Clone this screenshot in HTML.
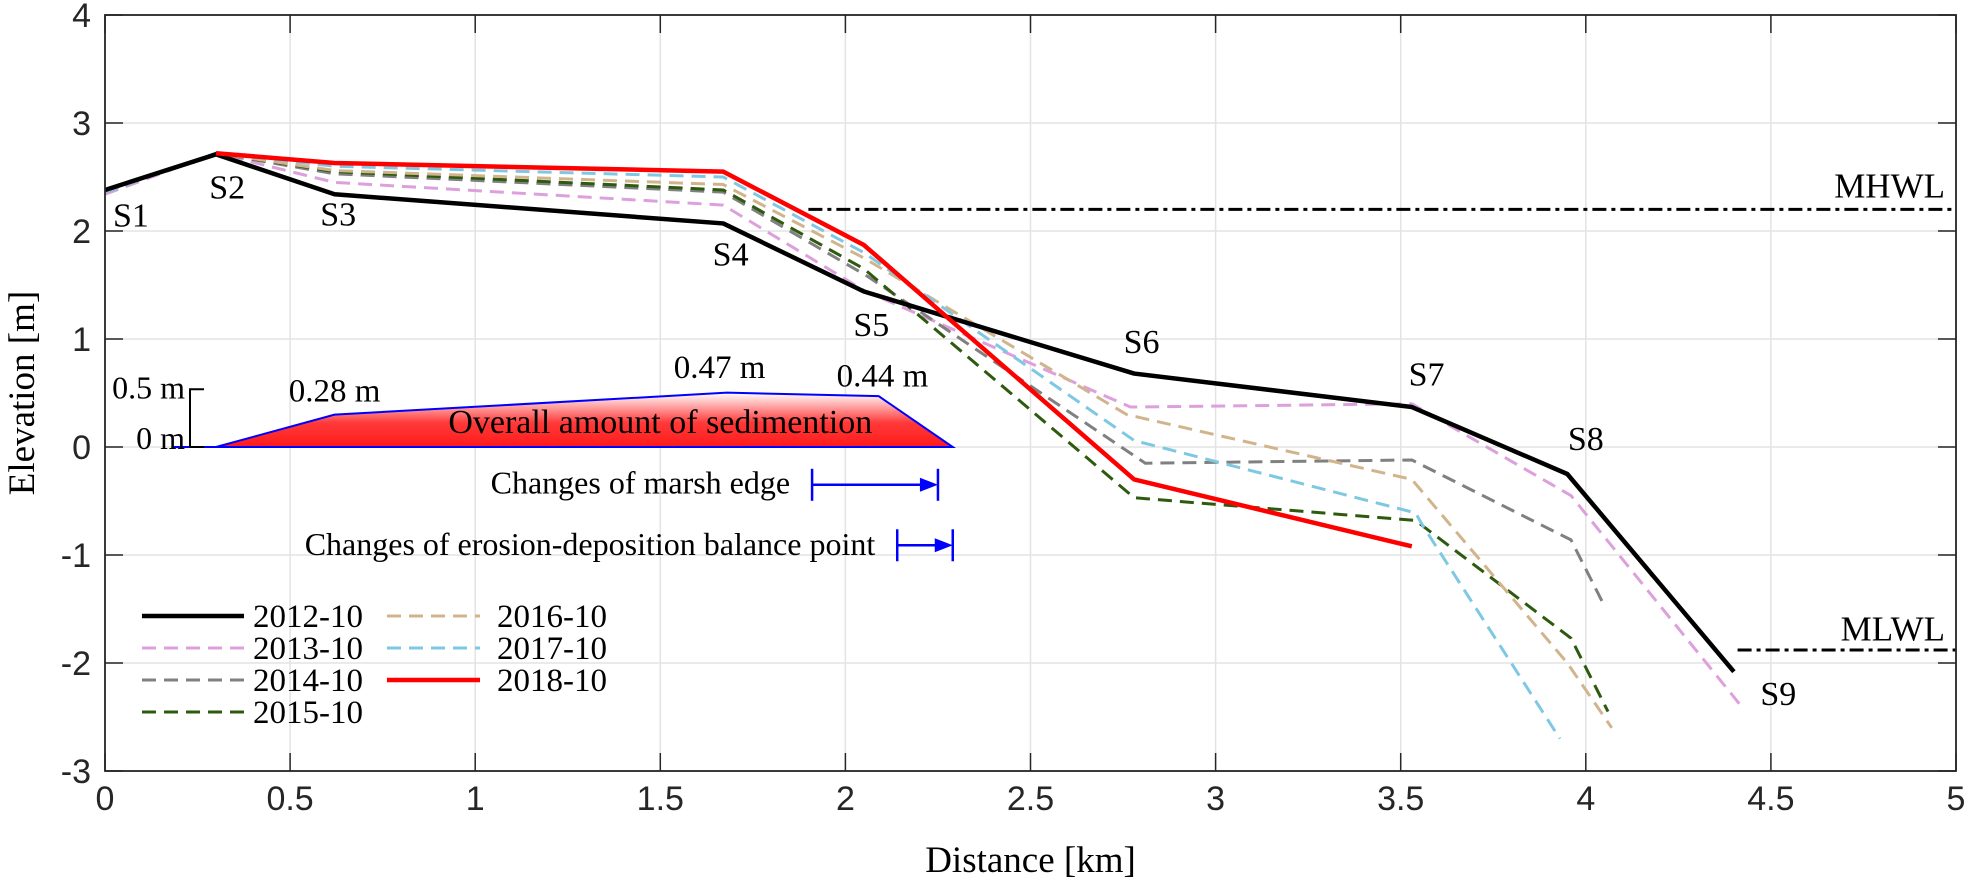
<!DOCTYPE html>
<html><head><meta charset="utf-8"><style>
html,body{margin:0;padding:0;background:#fff}
svg{display:block}
.tk{font-family:"Liberation Sans",Arial,sans-serif;font-size:34px;fill:#262626}
.sr{font-family:"Liberation Serif",serif;fill:#000}
</style></head><body>
<svg id="chart" width="1969" height="887" viewBox="0 0 1969 887" xmlns="http://www.w3.org/2000/svg">
<defs><linearGradient id="sedGrad" x1="0" y1="0" x2="0" y2="1">
<stop offset="0" stop-color="#ffffff"/><stop offset="0.55" stop-color="#ff3a3a"/><stop offset="1" stop-color="#ff1a1a"/></linearGradient></defs>
<g id="grid"></g>
<g id="annot"></g>
<g id="series"></g>
<g id="axes"></g>
<g id="legend"></g>
</svg>
<script>
const xTicks=[0,0.5,1,1.5,2,2.5,3,3.5,4,4.5,5];
const xTickLabels=["0","0.5","1","1.5","2","2.5","3","3.5","4","4.5","5"];
const yTicks=[-3,-2,-1,0,1,2,3,4];
const yTickLabels=["-3","-2","-1","0","1","2","3","4"];
const seriesNames=["2012-10","2013-10","2014-10","2015-10","2016-10","2017-10","2018-10"];
const x2012=[0,0.3,0.62,1.67,2.05,2.78,3.53,3.95,4.4];
const y2012=[2.38,2.71,2.34,2.07,1.44,0.68,0.37,-0.25,-2.08];
const x2013=[0,0.3,0.62,1.67,2.05,2.77,3.53,3.96,4.42];
const y2013=[2.34,2.72,2.45,2.24,1.45,0.37,0.40,-0.45,-2.4];
const x2014=[0,0.3,0.62,1.67,2.06,2.81,3.53,3.96,4.05];
const y2014=[2.36,2.72,2.53,2.36,1.58,-0.15,-0.12,-0.86,-1.47];
const x2015=[0,0.3,0.62,1.67,2.05,2.78,3.54,3.96,4.06];
const y2015=[2.36,2.72,2.55,2.38,1.65,-0.47,-0.68,-1.77,-2.45];
const x2016=[0,0.3,0.62,1.67,2.05,2.76,3.53,3.95,4.07];
const y2016=[2.36,2.72,2.56,2.43,1.75,0.30,-0.30,-2.0,-2.6];
const x2017=[0,0.3,0.62,1.67,2.05,2.78,3.54,3.56,3.93];
const y2017=[2.36,2.72,2.60,2.50,1.80,0.06,-0.61,-0.73,-2.7];
const x2018=[0.3,0.62,1.67,2.05,2.78,3.53];
const y2018=[2.72,2.63,2.55,1.87,-0.30,-0.92];
const stationNames=["S1","S2","S3","S4","S5","S6","S7","S8","S9"];
const stationLabelX=[0.07,0.33,0.63,1.69,2.07,2.80,3.57,4.0,4.52];
const stationBaseY=[2.04,2.30,2.05,1.68,1.03,0.87,0.57,-0.03,-2.39];
const sedX=[0.18,0.30,0.62,1.68,2.09,2.29];
const sedVal=[0,0,0.28,0.47,0.44,0];
const sedLabels=["0.28 m","0.47 m","0.44 m"];
const sedLabelX=[0.62,1.66,2.10];
const sedLabelBase=[0.42,0.64,0.56];
const mhwl=2.2, mlwl=-1.88;

const L=105,R=1956,T=15,B=771;
const sx=v=>L+(v-0)/5*(R-L);
const sy=v=>B-(v+3)/7*(B-T);
const NS="http://www.w3.org/2000/svg";
function mk(tag,parent,attrs){const e=document.createElementNS(NS,tag);for(const k in attrs)e.setAttribute(k,attrs[k]);parent.appendChild(e);return e;}
const grid=document.getElementById('grid'),axes=document.getElementById('axes'),ser=document.getElementById('series'),ann=document.getElementById('annot'),leg=document.getElementById('legend');

xTicks.forEach((t,i)=>{
 let g=mk('line',grid,{x1:sx(t),x2:sx(t),y1:T,y2:B,stroke:'#e3e3e3','stroke-width':1.5});
 
 
 let k=mk('line',axes,{x1:sx(t),x2:sx(t),y1:B,y2:B-18,stroke:'#262626','stroke-width':1.5});
 
 
 let k2=mk('line',axes,{x1:sx(t),x2:sx(t),y1:T,y2:T+18,stroke:'#262626','stroke-width':1.5});
 
 
 let tx=mk('text',axes,{x:sx(t),y:B+39,'text-anchor':'middle',class:'tk'});tx.textContent=xTickLabels[i];
 
 
});
yTicks.forEach((t,i)=>{
 let g=mk('line',grid,{x1:L,x2:R,y1:sy(t),y2:sy(t),stroke:'#e3e3e3','stroke-width':1.5});
 
 
 let k=mk('line',axes,{x1:L,x2:L+18,y1:sy(t),y2:sy(t),stroke:'#262626','stroke-width':1.5});
 
 
 let k2=mk('line',axes,{x1:R,x2:R-18,y1:sy(t),y2:sy(t),stroke:'#262626','stroke-width':1.5});
 
 
 let tx=mk('text',axes,{x:L-14,y:sy(t)+12,'text-anchor':'end',class:'tk'});tx.textContent=yTickLabels[i];
 
 
});
let box=mk('rect',axes,{x:L,y:T,width:R-L,height:B-T,fill:'none',stroke:'#262626','stroke-width':1.8});


let xt=mk('text',axes,{x:(L+R)/2,y:872,'text-anchor':'middle',class:'sr','font-size':37,fill:'#262626'});xt.textContent='Distance [km]';


let yt=mk('text',axes,{x:0,y:0,'text-anchor':'middle',class:'sr','font-size':37,fill:'#262626',transform:'translate(34,'+sy(0.5)+') rotate(-90)'});yt.textContent='Elevation [m]';



let mh=mk('line',ann,{x1:sx(1.9),x2:R,y1:sy(mhwl),y2:sy(mhwl),stroke:'#000','stroke-width':3,'stroke-dasharray':'14 5 4 5'});


let ml=mk('line',ann,{x1:sx(4.41),x2:R,y1:sy(mlwl),y2:sy(mlwl),stroke:'#000','stroke-width':3,'stroke-dasharray':'14 5 4 5'});


let mht=mk('text',ann,{x:1945,y:sy(2.31),'text-anchor':'end',class:'sr','font-size':35});mht.textContent='MHWL';


let mlt=mk('text',ann,{x:1945,y:sy(-1.79),'text-anchor':'end',class:'sr','font-size':35});mlt.textContent='MLWL';



const sedScale=1.07;
let pts=sedX.map((x,i)=>sx(x)+','+sy(sedVal[i]*sedScale)).join(' ');
let poly=mk('polygon',ann,{points:pts,fill:'url(#sedGrad)',stroke:'#0000ff','stroke-width':2});


sedLabels.forEach((s,i)=>{
 let t=mk('text',ann,{x:sx(sedLabelX[i]),y:sy(sedLabelBase[i]),'text-anchor':'middle',class:'sr','font-size':33});t.textContent=s;
 
 
});
let ot=mk('text',ann,{x:sx(1.5),y:sy(0.13),'text-anchor':'middle',class:'sr','font-size':34,fill:'#fff'});ot.textContent='Overall amount of sedimention';


let sb=mk('path',ann,{d:`M204 ${sy(0.5*sedScale)} H190 V${sy(0)} H204`,fill:'none',stroke:'#000','stroke-width':2});


let s1=mk('text',ann,{x:185,y:sy(0.45),'text-anchor':'end',class:'sr','font-size':32});s1.textContent='0.5 m';


let s0=mk('text',ann,{x:185,y:sy(-0.02),'text-anchor':'end',class:'sr','font-size':32});s0.textContent='0 m';



function arrow(x1,x2,yv,tb,label,name){
 const y=sy(yv),a=sx(x1),b=sx(x2);
 let g=mk('g',ann,{});
 
 
 mk('line',g,{x1:a,x2:b-14,y1:y,y2:y,stroke:'#0000ff','stroke-width':2.5});
 mk('polygon',g,{points:`${b},${y} ${b-18},${y-7} ${b-18},${y+7}`,fill:'#0000ff'});
 mk('line',g,{x1:a,x2:a,y1:y-16,y2:y+16,stroke:'#0000ff','stroke-width':2.5});
 mk('line',g,{x1:b,x2:b,y1:y-16,y2:y+16,stroke:'#0000ff','stroke-width':2.5});
 let t=mk('text',g,{x:a-22,y:sy(tb),'text-anchor':'end',class:'sr','font-size':32});t.textContent=label;
}
arrow(1.91,2.25,-0.35,-0.43,'Changes of marsh edge','marsh-edge-arrow');
arrow(2.14,2.29,-0.91,-1.0,'Changes of erosion-deposition balance point','balance-point-arrow');

const styles=[
 {c:'#000000',w:4.5,d:''},{c:'#dda0dd',w:3,d:'14 8'},{c:'#808080',w:3,d:'14 8'},
 {c:'#2d5a0e',w:3,d:'14 8'},{c:'#d2b48c',w:3,d:'14 8'},{c:'#7ec8e3',w:3,d:'14 8'},{c:'#ff0000',w:4.5,d:''}];
const X=[x2012,x2013,x2014,x2015,x2016,x2017,x2018],Y=[y2012,y2013,y2014,y2015,y2016,y2017,y2018];
[1,2,3,4,5,0,6].forEach(i=>{
 let d=X[i].map((x,j)=>(j?'L':'M')+sx(x)+' '+sy(Y[i][j])).join(' ');
 let p=mk('path',ser,{d:d,fill:'none',stroke:styles[i].c,'stroke-width':styles[i].w,'stroke-dasharray':styles[i].d,'stroke-linejoin':'round'});
 
 
});
stationNames.forEach((s,i)=>{
 let t=mk('text',ser,{x:sx(stationLabelX[i]),y:sy(stationBaseY[i]),'text-anchor':'middle',class:'sr','font-size':34});t.textContent=s;
 
 
});

const legRows=[616,648,680,712];
seriesNames.forEach((n,i)=>{
 const col=i<4?0:1,row=i<4?i:i-4;
 const x0=col?387:142,len=col?93:102,tx=col?497:253,y=legRows[row];
 let g=mk('g',leg,{});
 
 
 mk('line',g,{x1:x0,x2:x0+len,y1:y,y2:y,stroke:styles[i].c,'stroke-width':styles[i].w,'stroke-dasharray':styles[i].d});
 let t=mk('text',g,{x:tx,y:y+11,class:'sr','font-size':33});t.textContent=n;
});
</script>
</body></html>
